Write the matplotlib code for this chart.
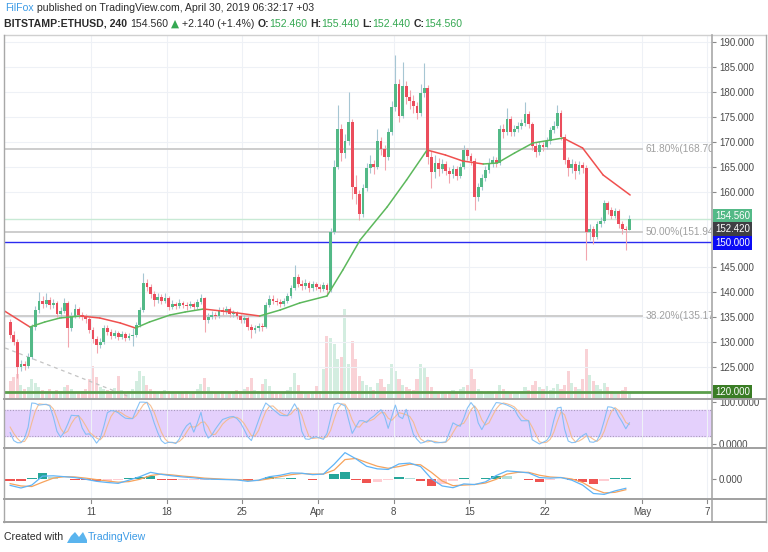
import numpy as np
import matplotlib
matplotlib.use("Agg")
import matplotlib.pyplot as plt
import matplotlib.dates as mdates
from matplotlib.lines import Line2D
from matplotlib.patches import Polygon
from matplotlib.ticker import FormatStrFormatter
from matplotlib.transforms import blended_transform_factory

plt.rcParams["font.family"] = ["Liberation Sans", "DejaVu Sans"]

W, H = 768, 552

# ---- data (8h candles from 2019-03-03 08:00) ----
START = "2019-03-03T08:00"
first_open = 134.0
closes = [
    131.5, 130.0, 125.0, 125.6, 125.2, 127.0, 133.0, 136.4, 138.2, 137.6, 138.4, 137.4,
    137.8, 135.6, 136.2, 137.8, 132.8, 135.2, 136.6, 135.4, 135.0, 134.6, 132.4, 130.6,
    129.4, 130.0, 132.8, 132.0, 131.2, 131.8, 131.0, 131.6, 130.8, 131.2, 131.4, 133.4,
    136.4, 141.8, 141.0, 139.6, 138.4, 139.0, 138.2, 138.8, 137.0, 137.6, 137.2, 137.8,
    137.4, 137.2, 137.6, 137.0, 138.0, 138.8, 134.4, 135.0, 135.4, 135.2, 136.4, 136.0,
    136.6, 135.6, 135.8, 135.2, 134.4, 134.8, 133.0, 132.4, 132.8, 133.2, 133.0, 137.4,
    138.6, 138.2, 138.0, 137.6, 138.2, 139.2, 140.8, 143.0, 141.6, 141.2, 141.8, 140.8,
    141.6, 141.0, 140.6, 141.4, 140.4, 152.0, 165.0, 172.6, 167.8, 170.2, 174.0, 161.0,
    159.6, 155.6, 160.8, 164.8, 165.6, 165.0, 170.2, 168.6, 167.0, 172.0, 177.0, 181.6,
    175.2, 181.2, 179.0, 178.2, 177.2, 175.8, 179.8, 180.8, 167.0, 164.0, 165.8, 164.6,
    165.6, 164.2, 163.6, 164.6, 163.2, 165.0, 168.4, 167.2, 166.2, 159.0, 161.0, 162.8,
    164.4, 165.8, 166.4, 165.8, 172.6, 172.0, 174.6, 172.0, 172.6, 173.2, 173.8, 175.6,
    173.6, 169.2, 168.0, 169.4, 169.0, 170.2, 172.4, 173.2, 175.8, 171.0, 166.4, 164.8,
    165.6, 164.2, 165.4, 164.8, 152.0, 152.6, 151.0, 153.6, 154.2, 157.8, 156.4, 155.2,
    156.2, 153.6, 152.6, 152.42, 154.56,
]
highs = [
    134.6, 132.2, 130.6, 126.4, 126.2, 127.8, 133.6, 137.2, 140.0, 139.2, 139.8, 139.0,
    138.6, 138.2, 137.0, 138.8, 138.2, 136.0, 137.6, 137.0, 136.0, 135.6, 135.0, 133.0,
    131.2, 130.8, 133.4, 133.4, 132.6, 132.4, 132.2, 132.2, 132.0, 131.8, 132.8, 134.0,
    137.0, 143.8, 142.6, 141.6, 140.2, 139.8, 139.6, 139.8, 139.2, 138.4, 138.0, 138.6,
    138.2, 138.0, 138.2, 138.0, 138.6, 139.6, 139.0, 135.8, 136.2, 136.0, 137.0, 137.0,
    137.2, 137.0, 136.4, 136.2, 135.6, 135.4, 135.2, 133.6, 133.4, 133.8, 133.8, 138.0,
    139.4, 139.4, 138.8, 138.6, 138.8, 139.8, 141.4, 145.4, 143.6, 142.4, 142.6, 142.2,
    142.2, 142.0, 141.6, 142.0, 141.8, 152.8, 166.4, 177.4, 173.6, 171.6, 180.0, 174.6,
    163.4, 160.4, 161.6, 165.8, 167.4, 166.4, 172.6, 171.0, 169.4, 172.8, 178.2, 187.4,
    182.6, 186.0, 182.2, 180.4, 179.4, 178.0, 181.6, 185.8, 181.4, 168.2, 167.4, 166.8,
    166.6, 166.2, 165.0, 165.4, 165.2, 165.8, 169.4, 168.8, 167.8, 166.8, 161.8, 163.6,
    165.2, 166.8, 167.2, 167.0, 173.4, 173.6, 176.8, 175.2, 173.4, 174.0, 174.6, 178.0,
    176.2, 174.0, 170.0, 170.2, 170.0, 171.0, 173.0, 174.2, 177.4, 176.4, 171.6, 167.0,
    166.6, 166.2, 166.2, 166.0, 165.4, 153.6, 153.2, 154.2, 155.0, 158.4, 158.2, 157.0,
    156.8, 156.6, 154.2, 153.2, 155.44,
]
lows = [
    130.8, 129.4, 122.8, 124.2, 124.4, 124.8, 126.6, 132.4, 135.8, 136.8, 137.0, 136.6,
    136.8, 135.0, 134.8, 135.8, 129.0, 132.2, 134.8, 134.8, 134.4, 133.8, 131.8, 129.8,
    127.8, 128.8, 129.6, 131.4, 130.6, 130.8, 130.4, 130.6, 130.2, 130.4, 129.2, 131.0,
    133.0, 136.0, 140.2, 138.8, 137.2, 137.8, 137.6, 137.8, 136.4, 136.6, 136.6, 136.8,
    136.8, 136.4, 136.8, 136.4, 136.6, 137.6, 132.0, 133.8, 134.6, 134.6, 134.8, 135.4,
    135.6, 135.0, 135.0, 134.6, 133.8, 133.8, 132.4, 130.8, 131.8, 132.2, 132.2, 132.8,
    137.0, 137.6, 137.4, 137.0, 137.2, 137.8, 138.8, 140.4, 141.0, 140.4, 140.6, 140.0,
    140.2, 140.4, 140.0, 140.2, 139.6, 140.0, 151.6, 164.6, 166.2, 166.8, 169.4, 158.6,
    157.6, 154.4, 155.0, 160.2, 163.8, 163.6, 164.6, 167.4, 164.4, 166.4, 171.4, 176.2,
    174.0, 174.8, 177.6, 176.6, 175.8, 174.6, 175.2, 179.0, 165.6, 160.8, 162.8, 163.2,
    163.8, 163.4, 161.8, 162.8, 162.4, 162.8, 164.6, 166.4, 165.4, 156.4, 158.2, 160.4,
    162.2, 163.8, 165.0, 165.0, 165.4, 170.8, 171.4, 171.2, 171.2, 172.0, 172.6, 173.2,
    172.8, 168.4, 167.0, 167.4, 168.2, 168.6, 169.6, 171.8, 172.8, 170.4, 165.6, 163.2,
    163.8, 162.6, 163.6, 163.8, 146.4, 150.4, 149.6, 150.6, 153.0, 153.8, 155.6, 154.6,
    154.8, 152.8, 151.6, 148.4, 152.40,
]
volumes = [
    18, 22, 25, 14, 10, 12, 20, 16, 12, 9, 8, 10,
    7, 9, 8, 12, 14, 10, 7, 6, 8, 10, 20, 33,
    22, 12, 10, 9, 8, 11, 23, 9, 7, 8, 10, 18,
    28, 23, 14, 10, 8, 7, 6, 9, 8, 6, 5, 7,
    6, 8, 5, 7, 10, 15, 21, 12, 8, 7, 6, 8,
    5, 6, 7, 9, 8, 10, 12, 21, 9, 8, 15, 20,
    13, 8, 6, 5, 7, 9, 12, 26, 14, 8, 6, 5,
    7, 13, 8, 30, 63, 61, 55, 40, 42, 90, 35, 58,
    40, 23, 18, 14, 12, 9, 16, 20, 12, 15, 35, 28,
    20, 14, 12, 10, 9, 20, 35, 32, 22, 12, 8, 7,
    6, 5, 7, 9, 6, 10, 12, 14, 30, 20, 10, 8,
    6, 8, 7, 5, 14, 10, 8, 7, 5, 6, 8, 12,
    9, 14, 18, 12, 10, 13, 9, 11, 15, 10, 14, 28,
    16, 12, 10, 20, 50, 24, 18, 14, 10, 16, 12, 8,
    6, 7, 9, 12, 6,
]
stoch_k = [
    27, 8, 3, 3, 13, 40, 97, 96, 92, 93, 94, 90,
    64, 30, 16, 28, 47, 68, 67, 67, 38, 23, 24, 15,
    2, 13, 41, 74, 79, 78, 74, 67, 61, 60, 60, 80,
    99, 99, 98, 77, 50, 27, 8, 1, 4, 4, 1, 12,
    30, 43, 50, 28, 50, 75, 32, 14, 21, 35, 47, 58,
    61, 64, 65, 60, 50, 34, 17, 8, 32, 56, 79, 97,
    90, 82, 75, 68, 67, 67, 80, 95, 80, 30, 12, 11,
    15, 17, 14, 11, 25, 60, 93, 97, 94, 90, 57, 25,
    40, 55, 55, 51, 60, 66, 74, 81, 66, 37, 65, 92,
    65, 60, 82, 52, 23, 11, 2, 4, 9, 7, 3, 3,
    4, 5, 27, 50, 45, 42, 61, 85, 98, 87, 50, 34,
    50, 67, 84, 98, 97, 95, 92, 88, 83, 67, 55, 55,
    55, 10, 5, 0, 4, 8, 20, 56, 85, 87, 35, 7,
    3, 4, 13, 20, 25, 5, 4, 8, 26, 55, 88, 87,
    83, 66, 52, 36, 50,
]
stoch_d = [
    40, 25, 13, 5, 6, 19, 50, 78, 95, 94, 93, 92,
    83, 61, 37, 25, 30, 48, 61, 67, 57, 43, 28, 21,
    14, 10, 19, 43, 65, 77, 77, 73, 67, 63, 60, 67,
    80, 93, 99, 91, 75, 51, 28, 12, 4, 3, 3, 6,
    14, 28, 41, 40, 43, 51, 52, 40, 22, 23, 34, 47,
    55, 61, 63, 63, 58, 48, 34, 20, 19, 32, 56, 77,
    89, 90, 82, 75, 70, 67, 71, 81, 85, 68, 41, 18,
    13, 14, 15, 14, 17, 32, 59, 83, 95, 94, 80, 57,
    41, 40, 50, 54, 55, 59, 67, 74, 74, 61, 56, 65,
    74, 72, 69, 65, 52, 29, 12, 6, 5, 7, 6, 4,
    3, 4, 12, 27, 41, 46, 49, 63, 81, 90, 78, 57,
    45, 50, 67, 83, 93, 97, 95, 92, 88, 79, 68, 59,
    55, 40, 23, 5, 3, 4, 11, 28, 54, 76, 69, 43,
    15, 5, 7, 12, 19, 17, 11, 6, 13, 30, 56, 77,
    86, 79, 67, 51, 46,
]

# moving average, days relative to 2019-04-01, segment colour 1 = green
ma_days = [-29.17, -26.67, -25.3, -23.9, -22.0, -20.2, -18.3, -16.9, -15.6, -13.7, -12.3,
           -10.6, -8.1, -5.4, -3.5, -1.7, 0.83, 2.3, 3.9, 6.4, 8.2, 10.1, 11.8, 13.4,
           15.3, 16.6, 18.2, 19.9, 22.7, 24.5, 26.4, 28.9]
ma_vals = [136.4, 133.0, 134.0, 134.8, 135.2, 134.8, 133.8, 132.8, 134.0, 135.4, 136.0,
           136.6, 136.0, 135.2, 136.4, 137.8, 139.2, 144.4, 150.4, 157.0, 162.4, 168.4,
           167.4, 166.2, 165.6, 165.8, 167.8, 169.8, 170.8, 168.8, 163.4, 159.4]
ma_up = [0, 1, 1, 1, 0, 0, 0, 1, 1, 1, 1, 0, 0, 1, 1, 1, 1, 1, 1, 1, 1, 0, 0, 0,
         1, 1, 1, 1, 0, 0, 0]

# daily MACD from 2019-03-03
MACD_START = "2019-03-03"
macd_vals = [-2.1, -3.0, -2.0, 1.1, 1.2, 0.9, 0.6, 0.0, -0.7, -1.1, -1.4, -0.3, 0.9, 2.4,
             1.7, 1.2, 0.8, 0.5, 0.1, 0.0, -0.1, -0.2, -0.7, -0.3, 0.9, 1.4, 2.2, 2.1,
             1.6, 1.8, 5.2, 9.2, 7.1, 4.5, 3.6, 3.4, 5.3, 5.6, 4.4, 0.2, -2.3, -2.9,
             -1.6, -1.8, -0.9, 1.3, 2.9, 2.6, 2.2, 0.6, 0.4, 0.6, -0.3, -2.0, -4.9,
             -5.2, -4.0, -3.1]
signal_vals = [-1.5, -2.3, -2.5, -1.0, 0.4, 0.9, 0.8, 0.4, -0.1, -0.6, -1.0, -0.8, 0.0,
               1.3, 1.8, 1.5, 1.1, 0.8, 0.4, 0.2, 0.0, -0.1, -0.4, -0.4, 0.2, 0.9, 1.6,
               2.0, 1.8, 1.8, 3.2, 6.8, 7.2, 5.8, 4.5, 3.8, 4.4, 5.2, 5.0, 2.4, -0.6,
               -2.2, -2.0, -1.8, -1.3, 0.0, 1.8, 2.4, 2.4, 1.4, 0.8, 0.6, 0.1, -1.1,
               -3.3, -4.7, -4.5, -3.6]

fib_levels = [168.70, 151.94, 135.17]
fib_names = ["61.80%", "50.00%", "38.20%"]
FIB_END = "2019-05-01"
trend_dates = ["2019-03-03T01:00", "2019-03-14T14:00"]
trend_prices = [128.8, 119.0]
last_price = 154.56
hline_blue = 150.0
hline_green = 120.0
price_ticks = [125, 130, 135, 140, 145, 160, 165, 170, 175, 180, 185, 190]
tick_dates = ["2019-03-11", "2019-03-18", "2019-03-25", "2019-04-01", "2019-04-08",
              "2019-04-15", "2019-04-22", "2019-05-01", "2019-05-07"]
tick_labels = ["11", "18", "25", "Apr", "8", "15", "22", "May", "7"]
# axis badges: (position on the price scale, text, colour)
badges = [(155.2, "154.560", "#53b987"), (152.5, "152.420", "#3f3f44"),
          (149.8, "150.000", "#0b0bf5"), (120.0, "120.000", "#3a7d25")]

UP, DOWN = "#53b987", "#eb4d5c"
UP_WICK, DOWN_WICK = "#a6c6d3", "#f2a5ae"
GRID = "#eef1f6"
TXT = "#4a4a4a"
FS = 7


def fbox(x0, y0, x1, y1):
    return [x0 / W, 1 - y1 / H, (x1 - x0) / W, (y1 - y0) / H]


fig = plt.figure(figsize=(W / 100, H / 100), dpi=100)
fig.patch.set_facecolor("white")


def fline(x0, y0, x1, y1, **kw):
    fig.add_artist(Line2D([x0 / W, x1 / W], [1 - y0 / H, 1 - y1 / H],
                          transform=fig.transFigure, **kw))


apr1 = mdates.date2num(np.datetime64("2019-04-01"))
n = len(closes)
t = np.datetime64(START) + np.arange(n) * np.timedelta64(8, "h")
x = mdates.date2num(t) + 1 / 6
o = np.r_[first_open, closes[:-1]]
c = np.array(closes)
hi = np.array(highs)
lo = np.array(lows)
up = c >= o

ax = fig.add_axes(fbox(4, 35, 712, 399))
ax_r = fig.add_axes(fbox(4, 399, 712, 448), sharex=ax)
ax_m = fig.add_axes(fbox(4, 448, 712, 499), sharex=ax)
ax_d = fig.add_axes(fbox(4, 499, 712, 522), sharex=ax)
ax_v = ax.twinx()
ax_v.set_zorder(0)
ax.set_zorder(1)
ax.patch.set_visible(False)

xt = mdates.date2num(np.array(tick_dates, dtype="datetime64[D]"))
for a in (ax, ax_r, ax_m, ax_d, ax_v):
    for s in a.spines.values():
        s.set_visible(False)

ax.set_xlim(apr1 - 29.07, apr1 + 36.48)

# volume
ax_v.bar(x, volumes, width=0.28, color=np.where(up, UP, DOWN), alpha=0.25, linewidth=0)
ax_v.set_ylim(0, 364)
ax_v.set_yticks([])

# candles
ax.vlines(x, lo, hi, colors=np.where(up, UP_WICK, DOWN_WICK), linewidth=0.8, zorder=3)
body_lo = np.minimum(o, c)
body_h = np.maximum(np.abs(c - o), 0.15)
ax.bar(x, body_h, width=0.26, bottom=body_lo, color=np.where(up, UP, DOWN),
       linewidth=0, zorder=4)

# moving average, coloured by segment
mx = apr1 + np.array(ma_days)
for i, flag in enumerate(ma_up):
    ax.plot(mx[i:i + 2], ma_vals[i:i + 2], color="#5cb85c" if flag else "#f0504f",
            lw=1.1, zorder=5, solid_capstyle="round")

# horizontal levels
fib_end = mdates.date2num(np.datetime64(FIB_END))
for lvl, name in zip(fib_levels, fib_names):
    ax.plot([apr1 - 30, fib_end], [lvl, lvl], color="#cdcdcd", lw=1.4, zorder=2)
    ax.text(fib_end + 0.3, lvl, f"{name}({lvl:.2f})", color="#a0a0a0", fontsize=7.3,
            va="center", ha="left", clip_on=True, zorder=6)
ax.axhline(last_price, color="#c8ead5", lw=1, zorder=2)
ax.axhline(hline_blue, color="#2b2bf0", lw=1, zorder=2)
ax.axhline(hline_green, color="#5a9e4b", lw=2, zorder=6)
tx = mdates.date2num(np.array(trend_dates, dtype="datetime64[m]"))
ax.plot(tx, trend_prices, color="#c4c4c4", lw=0.9, ls=(0, (3, 3)), zorder=2)

ax.set_ylim(118.6, 191.4)
ax.yaxis.tick_right()
ax.set_yticks(price_ticks)
ax.yaxis.set_major_formatter(FormatStrFormatter("%.3f"))
ax.tick_params(axis="y", length=3, width=0.8, color="#8a8a8a", labelsize=FS,
               labelcolor=TXT, pad=2)
ax.set_xticks(xt)
ax.tick_params(axis="x", length=0, labelbottom=False)
ax.grid(color=GRID, lw=0.8, zorder=0)

bt = blended_transform_factory(ax.transAxes, ax.transData)
for val, txt, col in badges:
    ax.text(1.004, val, txt, transform=bt, ha="left", va="center", fontsize=FS,
            color="white", clip_on=False, zorder=10,
            bbox=dict(boxstyle="square,pad=0.22", fc=col, ec="none"))

# stochastic RSI
ax_r.axhspan(20, 80, color="#e4d0fc", zorder=0)
for lvl in (20, 80):
    ax_r.axhline(lvl, color="#a99cbd", lw=0.8, ls=(0, (1, 1.5)), zorder=1)
ax_r.plot(x, stoch_k, color="#7bbcf5", lw=0.8, alpha=0.9, zorder=3)
ax_r.plot(x, stoch_d, color="#f5b98a", lw=0.8, alpha=0.9, zorder=2)
ax_r.set_ylim(-9.5, 106.4)
ax_r.yaxis.tick_right()
ax_r.set_yticks([0, 100])
ax_r.yaxis.set_major_formatter(FormatStrFormatter("%.4f"))
ax_r.tick_params(axis="y", length=3, width=0.8, color="#8a8a8a", labelsize=FS,
                 labelcolor=TXT, pad=2)
ax_r.tick_params(axis="x", length=0, labelbottom=False)
ax_r.grid(axis="x", color=GRID, lw=0.8)

# MACD
mdx = mdates.date2num(np.datetime64(MACD_START)) + np.arange(len(macd_vals)) + 0.5
mv = np.array(macd_vals)
sv = np.array(signal_vals)
hist = mv - sv
prev = np.r_[0.0, hist[:-1]]
hcol = np.where(hist >= 0, np.where(hist >= prev, "#26a69a", "#b2dfdb"),
                np.where(hist < prev, "#ef5350", "#ffcdd2"))
ax_m.bar(mdx, hist, width=0.9, color=hcol, linewidth=0, zorder=2)
ax_m.plot(mdx, mv, color="#5fb4f7", lw=0.9, zorder=4)
ax_m.plot(mdx, sv, color="#f7a35c", lw=0.9, zorder=3)
ax_m.set_ylim(-6.8, 10.8)
ax_m.yaxis.tick_right()
ax_m.set_yticks([0])
ax_m.yaxis.set_major_formatter(FormatStrFormatter("%.3f"))
ax_m.tick_params(axis="y", length=3, width=0.8, color="#8a8a8a", labelsize=FS,
                 labelcolor=TXT, pad=2)
ax_m.tick_params(axis="x", length=0, labelbottom=False)
ax_m.grid(axis="x", color=GRID, lw=0.8)

# date strip
ax_d.set_ylim(0, 1)
ax_d.set_yticks([])
ax_d.tick_params(axis="x", length=0, labelbottom=False)
ax_d.patch.set_visible(False)
for xx, lab in zip(xt, tick_labels):
    ax_d.plot([xx, xx], [1, 0.82], color="#8a8a8a", lw=0.8)
    ax_d.text(xx, 0.42, lab, ha="center", va="center", fontsize=FS, color=TXT)

# frame
fline(4, 35, 766, 35, color="#d0d0d0", lw=1)
fline(4, 35, 4, 522, color="#a8a8a8", lw=1)
fline(766, 35, 766, 522, color="#a8a8a8", lw=1)
fline(712, 35, 712, 522, color="#a8a8a8", lw=1.2)
for yy in (399, 448, 499, 522):
    fline(4, yy, 766, yy, color="#a0a0a0", lw=1.4)

# header
rend = fig.canvas.get_renderer()


def write_run(x0, y0, pieces):
    for s, kw in pieces:
        if s == " ":
            x0 += 3
            continue
        tt = fig.text(x0 / W, 1 - y0 / H, s, ha="left", va="center", **kw)
        x0 += tt.get_window_extent(renderer=rend).width


DARK = "#2b2b2b"
GRN = "#35a852"
HFS = 7.6
write_run(5, 8, [("FilFox", dict(color="#3c9be6", fontsize=HFS)),
                 (" published on TradingView.com, April 30, 2019 06:32:17 +03",
                  dict(color=DARK, fontsize=HFS))])
b = dict(color=DARK, fontsize=HFS, fontweight="bold")
r = dict(color=DARK, fontsize=HFS)
g = dict(color=GRN, fontsize=HFS)
write_run(4, 24, [("BITSTAMP:ETHUSD, 240", b), (" ", {}), ("154.560", r), (" ", {}),
                  ("\u25b2", dict(color=GRN, fontsize=HFS, family="DejaVu Sans")),
                  (" ", {}), ("+2.140 (+1.4%)", r), (" ", {}),
                  ("O:", b), ("152.460", g), (" ", {}), ("H:", b), ("155.440", g),
                  (" ", {}), ("L:", b), ("152.440", g), (" ", {}), ("C:", b),
                  ("154.560", g)])

# footer
fig.text(4 / W, 1 - 537 / H, "Created with", ha="left", va="center", fontsize=HFS,
         color=DARK)
logo = [(67, 543), (71, 536), (75, 532), (79, 537), (83, 532), (87, 540), (87, 543)]
fig.add_artist(Polygon([(px / W, 1 - py / H) for px, py in logo], closed=True,
                       transform=fig.transFigure, fc="#5ab4ee", ec="none"))
fig.text(88 / W, 1 - 537 / H, "TradingView", ha="left", va="center", fontsize=HFS,
         color="#3c9be6")

fig.savefig("out.png", dpi=100)
